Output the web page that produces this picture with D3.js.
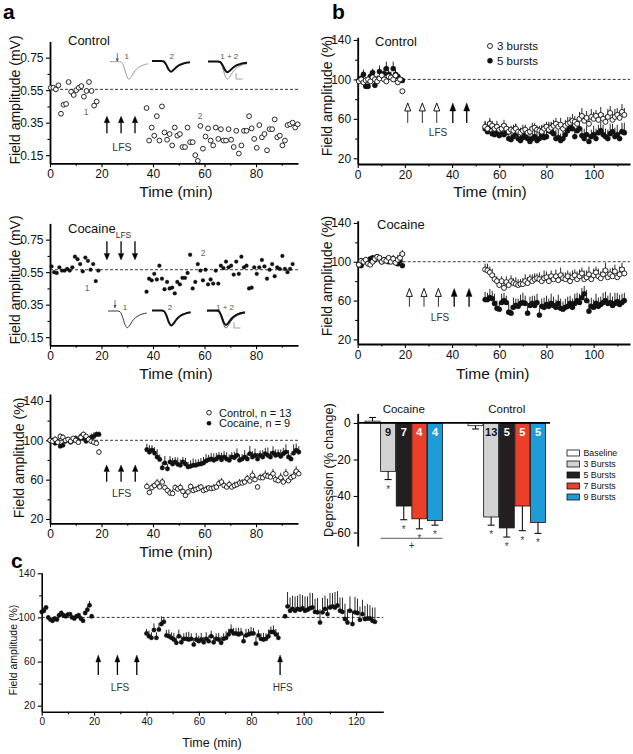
<!DOCTYPE html>
<html><head><meta charset="utf-8">
<script src="https://cdn.jsdelivr.net/npm/d3@7"></script>
<style>body{margin:0;background:#fff}</style>
</head><body>
<script>
// ================= DATA =================
// ---- Panel a, top: Control (field amplitude, mV) ----
const aCtrlPre = [0.565,0.565,0.555,0.58,0.405,0.46,0.465,0.60,0.54,0.52,0.55,0.565,0.575,0.51,0.545,0.60,0.545,0.455,0.48];
const aCtrlPreT0 = 0.3, aCtrlPreDt = 0.99;
const aCtrlPost = [0.44,0.24,0.32,0.27,0.39,0.24,0.45,0.29,0.245,0.28,0.21,0.32,0.27,0.28,0.20,0.20,0.32,0.23,0.23,0.15,
  0.115,0.33,0.19,0.265,0.315,0.24,0.21,0.32,0.25,0.31,0.24,0.24,0.31,0.245,0.20,0.30,0.16,0.21,0.30,0.30,
  0.39,0.315,0.25,0.195,0.335,0.26,0.28,0.18,0.31,0.31,0.37,0.26,0.27,0.21,0.24,0.335,0.34,0.35,0.32,0.34];
const aCtrlPostT0 = 37.5, aCtrlPostDt = 0.995;
const aCtrlBaseline = 0.555;
// ---- Panel a, middle: Cocaine ----
const aCocPre = [0.585,0.55,0.545,0.58,0.56,0.56,0.57,0.56,0.58,0.645,0.63,0.60,0.555,0.64,0.62,0.565,0.60,0.495,0.56];
const aCocPreT0 = 0.6, aCocPreDt = 1.01;
const aCocPost = [0.43,0.51,0.50,0.54,0.505,0.59,0.51,0.445,0.49,0.45,0.455,0.42,0.49,0.475,0.515,0.515,0.545,0.657,0.45,0.49,
  0.60,0.56,0.50,0.565,0.475,0.505,0.48,0.56,0.48,0.59,0.575,0.615,0.58,0.59,0.535,0.615,0.54,0.645,0.58,0.59,
  0.45,0.455,0.58,0.54,0.58,0.625,0.585,0.51,0.565,0.60,0.525,0.58,0.57,0.65,0.57,0.55,0.57,0.60];
const aCocPostT0 = 37.5, aCocPostDt = 0.995;
const aCocBaseline = 0.565;
// fEPSP inset waveform (normalised)
const fepspShape = [0,0,0,0,0,-0.05,-0.35,-0.8,-1,-0.85,-0.62,-0.45,-0.33,-0.25,-0.19,-0.15,-0.12];
// ---- Panel a, bottom: averages (%) ----
const avgCtrlPre = [100,99,101,98,104,103,100,101,99,102,100,98,103,106,104,101,99,98,97,88];
const avgCtrlPreErr = [2,2,3,2,3,3,2,2,3,2,2,3,3,3,2,2,3,3,2,3];
const avgCocPre = [100,100,97,99,94,95,99,101,98,100,102,100,104,102,99,101,103,104,106,106];
const avgCocPreErr = [2,2,3,3,2,3,3,2,2,3,3,2,3,3,4,3,4,4,3,3];
const avgCtrlPost = [53,47,52,54,56.6,52.6,57.6,52,49,46.4,46,52,50.5,52,48,44,47.5,53,49,50,
  51,52.5,49,50,51.5,51,51.5,52.5,56,57.6,54,52.5,55,52.5,54,55,56.6,56.6,57.6,61,
  58.6,64.4,60,52.5,62,62,64.4,63.4,62.7,66,60,59,62,57.6,66,59,62,63.4,68.5,66];
const avgCtrlPostErr = [4,3,4,3,4,3,4,3,3,4,4,3,3,4,3,4,3,3,4,3,4,3,3,4,3,3,4,3,4,4,3,3,4,3,4,3,4,4,3,4,4,5,4,3,4,4,5,4,4,5,4,4,5,4,5,4,4,5,5,4];
const avgCocPost = [90.5,88,90,87,83,80.6,72,77,71,78,76,78,75.6,74.6,78,76,73,73.6,74.6,74.6,
  75.6,76,77,79,80.3,81,79.7,81,83,80.3,83,81,79.7,83,82.4,84.7,79.7,81,83,81,
  86.4,83,84.7,81,84.7,83,86.4,84.7,83,87,84.7,85.7,83.7,86.4,88,83,81,87,89.8,88];
const avgCocPostErr = [6,7,5,6,8,5,6,7,5,6,6,5,7,6,5,6,5,6,7,6,5,6,6,7,5,6,7,6,5,7,6,7,6,5,6,7,6,5,7,6,8,6,7,6,5,7,6,8,6,7,6,5,7,6,8,7,6,9,7,6];
const avgPreT0 = 0, avgPreDt = 1, avgPostT0 = 37.6, avgPostDt = 1.0;
// ---- Panel b, top: Control, 3 vs 5 bursts (%) ----
const bCtrl3Pre = [98,100,97,99,100,98,102,100,98,101,104,100,98,103,102,100,104,97,100,88];
const bCtrl3PreErr = [3,2,3,3,2,3,3,4,3,3,4,3,3,4,3,3,4,3,3,2];
const bCtrl5Pre = [99,101,105,93,93,103,107,94,100,108,102,106,111,105,102,111,105,103,99,99];
const bCtrl5PreErr = [4,3,5,4,3,5,4,5,4,6,5,6,7,5,6,7,5,4,4,3];
const bCtrl3Post = [52,50,55,53,50,52,49,50,53,50,47,49,48,50,47,46,48,49,46,47,50,51,49,48,47,50,52,49,51,53,
  55,52,54,50,53,55,56,58,57,55,60,63,58,61,55,62,60,63,59,64,60,57,62,66,59,62,64,61,67,64];
const bCtrl3PostErr = [5,4,6,5,5,6,4,5,6,5,5,4,6,5,4,5,6,5,4,5,6,5,4,5,6,5,5,6,5,6,6,5,7,5,6,7,6,7,6,5,7,8,6,7,6,8,7,6,7,8,6,7,8,7,6,8,7,6,8,7];
const bCtrl5Post = [50,47,52,45,44,47,43,45,44,46,40,39,42,45,40,38,41,44,40,37,40,42,38,40,44,41,42,48,47,45,
  40,41,38,40,44,48,52,50,42,48,50,43,40,44,37,42,44,40,46,48,44,42,40,45,47,42,44,40,47,46];
const bCtrl5PostErr = [8,10,7,9,8,7,9,8,7,8,9,7,8,10,8,7,9,8,7,9,8,7,9,8,10,8,7,9,10,8,9,8,7,9,8,10,8,9,7,10,9,8,10,9,8,7,9,10,8,9,10,8,9,10,8,9,10,8,9,10];
// ---- Panel b, middle: Cocaine, 3 vs 5 bursts (%) ----
const bCoc3Pre = [97,101,100,102,98,97,100,103,105,104,100,102,101,104,100,103,99,102,104,108];
const bCoc3PreErr = [3,3,2,3,4,3,3,4,3,3,4,3,4,3,3,4,3,5,6,4];
const bCoc5Pre = [97,96,100,101,99,103,104,102,105,104,100,101,102,100,101,103,100,98,101,96];
const bCoc5PreErr = [2,3,2,2,3,2,3,2,3,2,3,2,3,3,2,3,3,2,3,2];
const bCoc3Post = [92,91,89,86,82,80,76,80,73,79,76,80,78,77,76,77,77,80,78,82,80,82,83,82,80,83,84,80,85,82,
  85,81,86,83,82,85,80,84,86,82,85,88,82,84,87,82,86,89,85,83,87,91,84,87,85,90,84,87,92,88];
const bCoc3PostErr = [6,7,6,7,6,5,6,5,7,6,5,6,5,7,6,5,6,7,6,5,7,6,5,7,6,8,6,7,6,5,7,6,8,6,7,6,9,7,6,8,7,6,9,7,8,6,7,6,8,7,6,8,7,6,9,7,6,8,7,6];
const bCoc5Post = [61,61,63,62,57,52,51,58,60,58,48,47,53,55,54,57,58,57,47,55,57,55,58,45,54,53,56,54,57,55,
  53,57,52,51,53,54,57,53,57,60,58,63,67,60,49,54,53,57,54,56,58,60,57,58,55,57,59,56,58,60];
const bCoc5PostErr = [8,7,9,8,10,8,7,9,8,7,9,8,10,7,8,9,10,8,7,9,8,10,9,7,8,10,9,8,10,9,8,9,10,8,9,10,8,9,10,8,9,10,8,11,12,9,8,10,9,8,10,9,8,10,9,11,9,10,9,8];
const bPreT0 = 0.5, bPreDt = 0.97, bPostT0 = 54, bPostDt = 1.0;
// ---- Panel b, bottom: depression bars (% change) ----
const barGroups = ["Cocaine", "Control"];
const barKeys = ["Baseline", "3 Bursts", "5 Bursts", "7 Bursts", "9 Bursts"];
const barColors = ["#ffffff", "#d3d3d3", "#231f20", "#ea3f2b", "#1e9cd8"];
const cocaineDep = [1, -26.5, -45.5, -52.5, -53.5];
const cocaineErr = [2, 4.5, 7.5, 5.5, 2.5];
const controlDep = [-1.5, -51.5, -57.5, -45.5, -54.5];
const controlErr = [1.8, 4.5, 5, 13.5, 6];
const cocaineN = ["", "9", "7", "4", "4"];
const controlN = ["", "13", "5", "5", "5"];
// ---- Panel c: LFS then HFS (%) ----
const cPre = [105,106,109,100,98,97,99,98,102,104,102,101,102.5,103,100,99,101,102,99,97,104,107,111,101];
const cPreErr = [2,3,2,2,1,2,1,2,2,2,1,2,2,1,2,2,1,2,2,1,2,3,4,2];
const cLfs = [85.5,83,81.5,88.6,81.5,89,94,96,83.7,83,81.5,80,77,83,77.5,80.6,80.6,80,80.6,75.4,
  80,78.5,80,77.5,80.6,78.5,83,77.5,80.6,80,77,80.6,81.5,84.6,87.7,85.5,85.5,84.6,85.5,78.5,
  83.7,84.6,85.5,85.5,76.3,83.7,80.6,80,80.6,83,86.8,86.8,84.6,81.5];
const cLfsErr = [4,5,5,6,5,6,7,4,5,6,5,6,5,6,6,5,6,7,5,6,6,5,6,5,6,5,5,6,5,6,6,5,6,5,6,5,5,6,5,6,6,5,6,5,6,5,5,6,5,6,5,6,5,5];
const cHfs = [101,110,106,107.7,106,107.7,107,108.3,106,107,108.3,109,105,104.6,95.4,104.6,107.7,103,109,110,
  109,110.8,106,105,98.5,95.4,106,94,104.6,104,97.8,103,98.5,99,99,97,96];
const cHfsErr = [0,13,12,12,13,12,14,12,13,12,14,13,12,13,12,13,12,14,13,12,14,13,12,13,14,12,13,12,14,13,12,13,12,13,12,12,13];
const cPreT0 = 0, cPreDt = 0.83, cLfsT0 = 40, cLfsDt = 0.95, cHfsT0 = 92.9, cHfsDt = 0.953;
// tick values
const aXTicks = [0,20,40,60,80], aXMinor = [10,30,50,70,90];
const mvTicks = [0.15,0.35,0.55,0.75], mvMinor = [0.25,0.45,0.65];
const pctTicks = [20,60,100,140], pctMinor = [40,80,120];
const bXTicks = [0,20,40,60,80,100], bXMinor = [10,30,50,70,90,110];
const depTicks = [0,-20,-40,-60];
const cXTicks = [0,20,40,60,80,100,120], cXMinor = [10,30,50,70,90,110];

// ================= DRAWING =================
const FF = "'Liberation Sans', Arial, Helvetica, sans-serif";
const svg = d3.select("body").append("svg").attr("width", 633).attr("height", 754)
  .style("background", "#fff").attr("font-family", FF);

const times = (arr, t0, dt) => arr.map((_, i) => t0 + i * dt);

function axes(x, y, c) {
  const g = svg.append("g");
  const yb = y.range()[0], xl = x.range()[0];
  g.append("g").attr("transform", `translate(0,${yb})`)
    .call(d3.axisBottom(x).tickValues(c.xt).tickSizeInner(4).tickSizeOuter(0).tickPadding(c.xpad || 2.5).tickFormat(d3.format("d")));
  if (c.xm) g.append("g").attr("transform", `translate(0,${yb})`)
    .call(d3.axisBottom(x).tickValues(c.xm).tickSize(2.5).tickFormat("")).select(".domain").remove();
  g.append("g").attr("transform", `translate(${xl},0)`)
    .call(d3.axisLeft(y).tickValues(c.yt).tickSizeInner(4).tickSizeOuter(0).tickPadding(c.ypad || 2.5).tickFormat(c.yf || d3.format("d")));
  if (c.ym) g.append("g").attr("transform", `translate(${xl},0)`)
    .call(d3.axisLeft(y).tickValues(c.ym).tickSize(2.5).tickFormat("")).select(".domain").remove();
  g.selectAll(".domain").attr("stroke-width", c.dw || 1.8);
  g.selectAll(".tick line").attr("stroke-width", 1.1);
  g.selectAll(".tick text").attr("font-size", c.fs || 12).attr("font-family", FF).attr("fill", "#111");
  return g;
}
function text(t, x, y, o = {}) {
  const e = svg.append("text").text(t).attr("x", x).attr("y", y)
    .attr("font-size", o.size || 12).attr("fill", o.fill || "#111")
    .attr("text-anchor", o.anchor || "start").attr("font-weight", o.weight || "normal");
  if (o.rot) e.attr("transform", `rotate(-90,${x},${y})`);
  return e;
}
function dashed(x, y, v) {
  svg.append("line").attr("x1", x.range()[0]).attr("x2", x.range()[1])
    .attr("y1", y(v)).attr("y2", y(v)).attr("stroke", "#222").attr("stroke-width", 0.9).attr("stroke-dasharray", "3,2");
}
function series(x, y, ts, vals, errs, o) {
  const g = svg.append("g");
  if (errs) g.selectAll("line").data(vals).join("line")
    .attr("x1", (d, i) => x(ts[i])).attr("x2", (d, i) => x(ts[i]))
    .attr("y1", d => y(d)).attr("y2", (d, i) => y(d + errs[i]))
    .attr("stroke", "#111").attr("stroke-width", o.ew || 0.9);
  g.selectAll("circle").data(vals).join("circle")
    .attr("cx", (d, i) => x(ts[i])).attr("cy", d => y(d)).attr("r", o.r)
    .attr("fill", o.filled ? "#111" : "#fff").attr("stroke", "#111").attr("stroke-width", o.filled ? 0.3 : (o.sw || 0.9));
}
function arrow(x, yTail, yHead, o = {}) {
  const hl = o.hl || 7, hw = o.hw || 5.5;
  const dir = Math.sign(yHead - yTail);
  const yBase = yHead - dir * hl;
  svg.append("line").attr("x1", x).attr("x2", x).attr("y1", yTail).attr("y2", yBase)
    .attr("stroke", o.open ? "#333" : "#000").attr("stroke-width", o.lw || 1.3);
  svg.append("path").attr("d", `M${x},${yHead}L${x - hw / 2},${yBase}L${x + hw / 2},${yBase}Z`)
    .attr("fill", o.open ? "#fff" : "#000").attr("stroke", "#000").attr("stroke-width", o.open ? 0.9 : 0.4);
}
function trace(shape, x0, x1, yBase, depth, color, width) {
  const tx = d3.scaleLinear().domain([0, shape.length - 1]).range([x0, x1]);
  const ty = d3.scaleLinear().domain([0, -1]).range([yBase, yBase + depth]);
  svg.append("path").datum(shape)
    .attr("d", d3.line().x((d, i) => tx(i)).y(d => ty(d)).curve(d3.curveMonotoneX))
    .attr("fill", "none").attr("stroke", color).attr("stroke-width", width);
}
function scaleBar(x, y) {
  svg.append("path").attr("d", `M${x},${y - 6}V${y}H${x + 6.5}`).attr("fill", "none").attr("stroke", "#999").attr("stroke-width", 0.9);
}
function stimArrow(x, y0, y1) {
  svg.append("line").attr("x1", x).attr("x2", x).attr("y1", y0).attr("y2", y1).attr("stroke", "#555").attr("stroke-width", 0.8);
  svg.append("path").attr("d", `M${x},${y1 + 1}L${x - 1.6},${y1 - 2.5}L${x + 1.6},${y1 - 2.5}Z`).attr("fill", "#555");
}

// ---------- Panel labels ----------
text("a", 3, 19, { size: 21, weight: "bold", fill: "#000" });
text("b", 332, 19, { size: 21, weight: "bold", fill: "#000" });
text("c", 11, 568, { size: 21, weight: "bold", fill: "#000" });

// ---------- Panel a top ----------
{
  const x = d3.scaleLinear().domain([0, 96.3]).range([50, 298]);
  const y = d3.scaleLinear().domain([0.1, 0.85]).range([163.3, 41.4]);
  axes(x, y, { xt: aXTicks, xm: aXMinor, yt: mvTicks, ym: mvMinor, yf: d3.format(".2f") });
  dashed(x, y, aCtrlBaseline);
  series(x, y, times(aCtrlPre, aCtrlPreT0, aCtrlPreDt), aCtrlPre, null, { r: 2.4 });
  series(x, y, times(aCtrlPost, aCtrlPostT0, aCtrlPostDt), aCtrlPost, null, { r: 2.4 });
  [22.1, 27.6, 33.0].forEach(t => arrow(x(t), y(0.285), y(0.39), { hl: 6.5, hw: 5.5 }));
  text("LFS", 122, 151, { size: 10.5, anchor: "middle", fill: "#333" });
  text("Control", 68, 44.5, { size: 13 });
  text("1", 86, 115, { size: 8.5, anchor: "middle", fill: "#666" });
  text("2", 200, 119, { size: 8.5, anchor: "middle", fill: "#666" });
  text("Time (min)", 176, 197, { size: 15.5, anchor: "middle" });
  text("Field amplitude (mV)", 20, 100, { size: 14, anchor: "middle", rot: true });
  // insets
  stimArrow(117.3, 53, 61);
  text("1", 126.7, 59, { size: 8, anchor: "middle", fill: "#555" });
  trace(fepspShape, 110, 148, 61.7, 17.6, "#999", 1);
  text("2", 171.7, 59, { size: 8, anchor: "middle", fill: "#555" });
  trace(fepspShape, 152, 190, 61, 10.7, "#111", 2);
  text("1 + 2", 229.3, 59, { size: 8, anchor: "middle", fill: "#555" });
  trace(fepspShape, 208, 247, 61.7, 17.6, "#999", 1);
  trace(fepspShape, 208, 247, 61.5, 10.7, "#111", 2);
  scaleBar(236, 79);
}

// ---------- Panel a middle ----------
{
  const x = d3.scaleLinear().domain([0, 96.3]).range([50, 298]);
  const y = d3.scaleLinear().domain([0.1, 0.85]).range([345.3, 223.4]);
  axes(x, y, { xt: aXTicks, xm: aXMinor, yt: mvTicks, ym: mvMinor, yf: d3.format(".2f") });
  dashed(x, y, aCocBaseline);
  series(x, y, times(aCocPre, aCocPreT0, aCocPreDt), aCocPre, null, { r: 1.9, filled: true });
  series(x, y, times(aCocPost, aCocPostT0, aCocPostDt), aCocPost, null, { r: 1.9, filled: true });
  [22.1, 27.6, 33.0].forEach(t => arrow(x(t), y(0.74), y(0.625), { hl: 6.5, hw: 5.5 }));
  text("Cocaine", 68, 233, { size: 13 });
  text("LFS", 123.5, 238, { size: 8.5, anchor: "middle", fill: "#333" });
  text("1", 87, 291, { size: 8.5, anchor: "middle", fill: "#666" });
  text("2", 203, 256, { size: 8.5, anchor: "middle", fill: "#666" });
  text("Time (min)", 176, 378.5, { size: 15.5, anchor: "middle" });
  text("Field amplitude (mV)", 20, 280, { size: 14, anchor: "middle", rot: true });
  stimArrow(115, 300, 307.5);
  text("1", 125, 310, { size: 8, anchor: "middle", fill: "#555" });
  trace(fepspShape, 108, 146.7, 311, 16.7, "#333", 1);
  text("2", 170, 310, { size: 8, anchor: "middle", fill: "#555" });
  trace(fepspShape, 152, 190.7, 310.5, 15, "#111", 2);
  text("1 + 2", 225, 310, { size: 8, anchor: "middle", fill: "#555" });
  trace(fepspShape, 207, 245, 311, 17, "#555", 1);
  trace(fepspShape, 207, 245, 310.5, 14.5, "#111", 2);
  scaleBar(234, 328);
}

// ---------- Panel a bottom ----------
{
  const x = d3.scaleLinear().domain([0, 96.3]).range([50, 298]);
  const y = d3.scaleLinear().domain([15.6, 147.1]).range([523.3, 394]);
  axes(x, y, { xt: aXTicks, xm: aXMinor, yt: pctTicks, ym: pctMinor });
  dashed(x, y, 100);
  series(x, y, times(avgCocPre, avgPreT0, avgPreDt), avgCocPre, avgCocPreErr, { r: 2.3, filled: true });
  series(x, y, times(avgCocPost, avgPostT0, avgPostDt), avgCocPost, avgCocPostErr, { r: 2.3, filled: true });
  series(x, y, times(avgCtrlPre, avgPreT0, avgPreDt), avgCtrlPre, avgCtrlPreErr, { r: 2.3 });
  series(x, y, times(avgCtrlPost, avgPostT0, avgPostDt), avgCtrlPost, avgCtrlPostErr, { r: 2.3 });
  [22.0, 27.6, 33.1].forEach(t => arrow(x(t), y(57.9), y(75), { hl: 6.5, hw: 5.5 }));
  text("LFS", 121.7, 497, { size: 10.5, anchor: "middle", fill: "#333" });
  svg.append("circle").attr("cx", 209).attr("cy", 412.7).attr("r", 2.3).attr("fill", "#fff").attr("stroke", "#111").attr("stroke-width", 0.9);
  text("Control, n = 13", 219, 416.8, { size: 11 });
  svg.append("circle").attr("cx", 209).attr("cy", 423.3).attr("r", 2.3).attr("fill", "#111");
  text("Cocaine, n = 9", 219, 427.4, { size: 11 });
  text("Time (min)", 176, 557, { size: 15.5, anchor: "middle" });
  text("Field amplitude (%)", 24, 458, { size: 14, anchor: "middle", rot: true });
}

// ---------- Panel b top ----------
{
  const x = d3.scaleLinear().domain([0, 115.4]).range([357.7, 630]);
  const y = d3.scaleLinear().domain([14.2, 142.7]).range([164, 37.3]);
  axes(x, y, { xt: bXTicks, xm: bXMinor, yt: pctTicks, ym: pctMinor });
  dashed(x, y, 100);
  series(x, y, times(bCtrl5Pre, bPreT0, bPreDt), bCtrl5Pre, bCtrl5PreErr, { r: 2.6, filled: true });
  series(x, y, times(bCtrl5Post, bPostT0, bPostDt), bCtrl5Post, bCtrl5PostErr, { r: 2.6, filled: true });
  series(x, y, times(bCtrl3Pre, bPreT0, bPreDt), bCtrl3Pre, bCtrl3PreErr, { r: 2.5 });
  series(x, y, times(bCtrl3Post, bPostT0, bPostDt), bCtrl3Post, bCtrl3PostErr, { r: 2.5 });
  [21.2, 27.4, 33.5].forEach(t => arrow(x(t), y(55.8), y(76.1), { open: true, hl: 8, hw: 6, lw: 1 }));
  [40.3, 46.2].forEach(t => arrow(x(t), y(55.8), y(76.1), { hl: 8, hw: 6 }));
  text("LFS", 438, 135.5, { size: 10, anchor: "middle", fill: "#333" });
  text("Control", 375, 46, { size: 13 });
  svg.append("circle").attr("cx", 490).attr("cy", 46).attr("r", 2.5).attr("fill", "#fff").attr("stroke", "#111").attr("stroke-width", 0.9);
  text("3 bursts", 497, 50, { size: 11.5 });
  svg.append("circle").attr("cx", 490).attr("cy", 60.7).attr("r", 2.7).attr("fill", "#111");
  text("5 bursts", 497, 64.7, { size: 11.5 });
  text("Time (min)", 490, 196.5, { size: 15.5, anchor: "middle" });
  text("Field amplitude (%)", 332, 96, { size: 14, anchor: "middle", rot: true });
}

// ---------- Panel b middle ----------
{
  const x = d3.scaleLinear().domain([0, 115.4]).range([357.7, 630]);
  const y = d3.scaleLinear().domain([15.2, 142.3]).range([344, 220.7]);
  axes(x, y, { xt: bXTicks, xm: bXMinor, yt: pctTicks, ym: pctMinor });
  dashed(x, y, 100);
  series(x, y, times(bCoc5Pre, bPreT0, bPreDt), bCoc5Pre, bCoc5PreErr, { r: 2.6, filled: true });
  series(x, y, times(bCoc5Post, bPostT0, bPostDt), bCoc5Post, bCoc5PostErr, { r: 2.6, filled: true });
  series(x, y, times(bCoc3Pre, bPreT0, bPreDt), bCoc3Pre, bCoc3PreErr, { r: 2.5 });
  series(x, y, times(bCoc3Post, bPostT0, bPostDt), bCoc3Post, bCoc3PostErr, { r: 2.5 });
  [21.9, 28.1, 34.2].forEach(t => arrow(x(t), y(53.6), y(72.5), { open: true, hl: 8, hw: 6, lw: 1 }));
  [40.9, 47.2].forEach(t => arrow(x(t), y(53.6), y(72.5), { hl: 8, hw: 6 }));
  text("LFS", 440, 321, { size: 10, anchor: "middle", fill: "#333" });
  text("Cocaine", 377, 229, { size: 13 });
  text("Time (min)", 492.7, 379, { size: 15.5, anchor: "middle" });
  text("Field amplitude (%)", 332, 276, { size: 14, anchor: "middle", rot: true });
}

// ---------- Panel b bottom: bars ----------
{
  const y = d3.scaleLinear().domain([-67.4, 5.3]).range([546, 413.3]);
  const x0 = d3.scaleBand().domain(barGroups).range([365, 545.5]).paddingInner(0.248).paddingOuter(0);
  const x1 = d3.scaleBand().domain(barKeys).range([0, x0.bandwidth()]).paddingInner(0.04);
  const g = svg.append("g");
  g.append("g").attr("transform", "translate(357.7,0)")
    .call(d3.axisLeft(y).tickValues(depTicks).tickSizeInner(4).tickSizeOuter(0).tickPadding(3).tickFormat(d3.format("d")))
    .call(a => { a.select(".domain").attr("stroke-width", 1.8); a.selectAll(".tick text").attr("font-size", 12).attr("font-family", FF); a.selectAll(".tick line").attr("stroke-width", 1.1); });
  const groups = [
    { name: "Cocaine", vals: cocaineDep, errs: cocaineErr, ns: cocaineN },
    { name: "Control", vals: controlDep, errs: controlErr, ns: controlN }
  ];
  groups.forEach(gr => {
    gr.vals.forEach((v, i) => {
      const k = barKeys[i];
      const bx = x0(gr.name) + x1(k), bw = x1.bandwidth(), cx = bx + bw / 2;
      g.append("rect").attr("x", bx).attr("width", bw)
        .attr("y", y(Math.max(0, v))).attr("height", Math.abs(y(v) - y(0)))
        .attr("fill", barColors[i]).attr("stroke", "#111").attr("stroke-width", 0.8);
      const ye = v >= 0 ? v + gr.errs[i] : v - gr.errs[i];
      g.append("line").attr("x1", cx).attr("x2", cx).attr("y1", y(v)).attr("y2", y(ye)).attr("stroke", "#111").attr("stroke-width", 1.1);
      g.append("line").attr("x1", cx - 3.5).attr("x2", cx + 3.5).attr("y1", y(ye)).attr("y2", y(ye)).attr("stroke", "#111").attr("stroke-width", 1.1);
      if (gr.ns[i]) {
        g.append("text").text(gr.ns[i]).attr("x", cx).attr("y", y(0) + 13).attr("text-anchor", "middle")
          .attr("font-size", 11).attr("font-weight", "bold").attr("fill", i === 1 ? "#111" : "#fff");
        g.append("text").text("*").attr("x", cx).attr("y", y(ye) + 13).attr("text-anchor", "middle")
          .attr("font-size", 10).attr("fill", "#444");
      }
    });
    text(gr.name, x0(gr.name) + x0.bandwidth() / 2, 413, { size: 11.5, anchor: "middle" });
  });
  // zero line
  g.append("line").attr("x1", 357.7).attr("x2", 550).attr("y1", y(0)).attr("y2", y(0)).attr("stroke", "#000").attr("stroke-width", 1.8);
  // significance line for cocaine bursts
  const sx0 = x0("Cocaine") + x1("3 Bursts"), sx1 = x0("Cocaine") + x1("9 Bursts") + x1.bandwidth();
  g.append("line").attr("x1", sx0).attr("x2", sx1).attr("y1", 538.3).attr("y2", 538.3).attr("stroke", "#333").attr("stroke-width", 0.8);
  text("+", (sx0 + sx1) / 2, 548.5, { size: 10, anchor: "middle", fill: "#333" });
  // legend
  barKeys.forEach((k, i) => {
    const yy = 453 + i * 11;
    g.append("rect").attr("x", 567).attr("y", yy - 3).attr("width", 12.5).attr("height", 6)
      .attr("fill", barColors[i]).attr("stroke", "#111").attr("stroke-width", 0.8);
    g.append("text").text(k).attr("x", 583.5).attr("y", yy + 3).attr("font-size", 8.8).attr("fill", "#111");
  });
  text("Depression (% change)", 333, 470, { size: 12.8, anchor: "middle", rot: true });
}

// ---------- Panel c ----------
{
  const x = d3.scaleLinear().domain([0, 130.4]).range([41.7, 383.3]);
  const y = d3.scaleLinear().domain([14.6, 140.5]).range([711.7, 572.7]);
  axes(x, y, { xt: cXTicks, xm: cXMinor, yt: pctTicks, ym: pctMinor, fs: 10, dw: 1.6 });
  dashed(x, y, 100);
  series(x, y, times(cPre, cPreT0, cPreDt), cPre, cPreErr, { r: 2.2, filled: true });
  series(x, y, times(cLfs, cLfsT0, cLfsDt), cLfs, cLfsErr, { r: 2.2, filled: true });
  series(x, y, times(cHfs, cHfsT0, cHfsDt), cHfs, cHfsErr, { r: 2.2, filled: true });
  [21.6, 28.9, 36.3, 91.0].forEach(t => arrow(x(t), y(47.9), y(66), { hl: 7, hw: 5 }));
  text("LFS", 120, 690.5, { size: 10, anchor: "middle", fill: "#333" });
  text("HFS", 282.7, 690.5, { size: 10, anchor: "middle", fill: "#333" });
  text("Time (min)", 212, 747, { size: 12.5, anchor: "middle" });
  text("Field amplitude (%)", 16.5, 650, { size: 10.5, anchor: "middle", rot: true });
}
</script>
</body></html>
